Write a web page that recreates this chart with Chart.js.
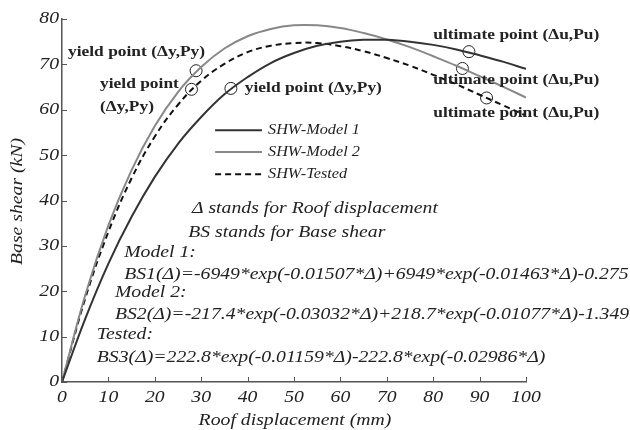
<!DOCTYPE html>
<html>
<head>
<meta charset="utf-8">
<script src="https://cdn.jsdelivr.net/npm/chart.js@4/dist/chart.umd.min.js"></script>
<style>
    body { margin: 0; background: #fff; }
    #wrap { width: 630px; height: 430px; }
</style>
</head>
<body>
<div id="wrap"><canvas id="chart1"></canvas></div>
<script>
const chart1div = document.getElementById("chart1")

// roof displacement (mm)
const displacement = [0, 5, 10, 15, 20, 25, 30, 35, 40, 45, 50, 55, 60, 65, 70, 75, 80, 85, 90, 95, 100]
// base shear (kN)
const model1 = [0, 13.9, 26.1, 36.4, 45.2, 52.5, 58.4, 63.4, 67.2, 70.3, 72.5, 74.1, 75.0, 75.4, 75.4, 75.0, 74.3, 73.3, 72.0, 70.6, 69.0]
const model2 = [0, 19.1, 34.5, 46.7, 56.4, 63.9, 69.4, 73.5, 76.2, 77.8, 78.6, 78.6, 78.0, 76.9, 75.5, 73.8, 71.8, 69.7, 67.4, 65.1, 62.7]
const tested = [0, 18.4, 33.1, 44.9, 54.1, 61.1, 66.4, 70.1, 72.7, 74.1, 74.7, 74.7, 74.0, 72.9, 71.4, 69.7, 67.7, 65.6, 63.3, 61.0, 58.7]
// yield and ultimate points (circles)
const markerX = [36.4, 28.9, 27.9, 87.7, 86.3, 91.5]
const markerY = [64.7, 68.6, 64.5, 72.8, 69.1, 62.6]
const seriesNames = ["SHW-Model 1", "SHW-Model 2", "SHW-Tested"]
const xTicks = [0, 10, 20, 30, 40, 50, 60, 70, 80, 90, 100]
const yTicks = [0, 10, 20, 30, 40, 50, 60, 70, 80]

const serif = "'Liberation Serif', 'DejaVu Serif', serif"
const axisColor = "#555"
const textColor = "#222"
const stretch = 1.16   // the original text is a bit wide

const toPoints = (ys) => ys.map((y, i) => ({ x: displacement[i], y: y }))

// text notes placed in data units
const notes = [
    { t: "yield point (\u0394y,Py)", x: 1.3, y: 72.7, bold: true },
    { t: "yield point", x: 8.2, y: 65.6, bold: true },
    { t: "(\u0394y,Py)", x: 8.2, y: 60.6, bold: true },
    { t: "yield point (\u0394y,Py)", x: 39.4, y: 64.8, bold: true },
    { t: "ultimate point (\u0394u,Pu)", x: 80.0, y: 76.4, bold: true },
    { t: "ultimate point (\u0394u,Pu)", x: 80.0, y: 66.5, bold: true },
    { t: "ultimate point (\u0394u,Pu)", x: 80.0, y: 59.3, bold: true },
    { t: "\u0394 stands for Roof displacement", x: 28.0, y: 38.3 },
    { t: "BS stands for Base shear", x: 27.2, y: 33.0 },
    { t: "Model 1:", x: 13.4, y: 28.6 },
    { t: "BS1(\u0394)=-6949*exp(-0.01507*\u0394)+6949*exp(-0.01463*\u0394)-0.275", x: 13.4, y: 23.6 },
    { t: "Model 2:", x: 11.4, y: 19.8 },
    { t: "BS2(\u0394)=-217.4*exp(-0.03032*\u0394)+218.7*exp(-0.01077*\u0394)-1.349", x: 11.4, y: 14.8 },
    { t: "Tested:", x: 7.5, y: 10.4 },
    { t: "BS3(\u0394)=222.8*exp(-0.01159*\u0394)-222.8*exp(-0.02986*\u0394)", x: 7.5, y: 5.5 }
]
const legendSpot = { x0: 33.0, x1: 43.1, tx: 44.4, ys: [55.5, 50.7, 45.8] }

function wideText(ctx, text, x, y, font, align, rot) {
    ctx.save()
    ctx.translate(x, y)
    if (rot) ctx.rotate(rot)
    ctx.scale(stretch, 1)
    ctx.font = font
    ctx.textAlign = align
    ctx.textBaseline = "middle"
    ctx.fillStyle = textColor
    ctx.fillText(text, 0, 0)
    ctx.restore()
}

const extras = {
    id: "extras",
    afterDatasetsDraw(chart) {
        const ctx = chart.ctx
        const xs = chart.scales.x
        const ys = chart.scales.y
        const area = chart.chartArea
        ctx.save()
        // inward tick marks
        ctx.strokeStyle = axisColor
        ctx.lineWidth = 1
        xTicks.forEach(v => {
            const px = Math.round(xs.getPixelForValue(v)) + 0.5
            ctx.beginPath(); ctx.moveTo(px, area.bottom); ctx.lineTo(px, area.bottom - 5); ctx.stroke()
        })
        yTicks.forEach(v => {
            const py = Math.round(ys.getPixelForValue(v)) + 0.5
            ctx.beginPath(); ctx.moveTo(area.left, py); ctx.lineTo(area.left + 5, py); ctx.stroke()
        })
        ctx.restore()

        // tick labels and axis titles
        const tickFont = "italic 17px " + serif
        xTicks.forEach(v => wideText(ctx, String(v), xs.getPixelForValue(v), area.bottom + 16, tickFont, "center"))
        yTicks.forEach(v => wideText(ctx, String(v), area.left - 3, ys.getPixelForValue(v), tickFont, "right"))
        wideText(ctx, "Roof displacement (mm)", (area.left + area.right) / 2 + 1, area.bottom + 39, "italic 17px " + serif, "center")
        wideText(ctx, "Base shear (kN)", 18, (area.top + area.bottom) / 2 + 1, "italic 17px " + serif, "center", -Math.PI / 2)

        // notes
        notes.forEach(n => {
            const font = n.bold ? "bold 15px " + serif : "italic 17px " + serif
            wideText(ctx, n.t, xs.getPixelForValue(n.x), ys.getPixelForValue(n.y), font, "left")
        })

        // legend
        ctx.save()
        chart.data.datasets.slice(0, 3).forEach((ds, i) => {
            const py = ys.getPixelForValue(legendSpot.ys[i])
            ctx.strokeStyle = ds.borderColor
            ctx.lineWidth = ds.borderWidth
            ctx.setLineDash(ds.borderDash || [])
            ctx.beginPath()
            ctx.moveTo(xs.getPixelForValue(legendSpot.x0), py)
            ctx.lineTo(xs.getPixelForValue(legendSpot.x1), py)
            ctx.stroke()
            ctx.setLineDash([])
            wideText(ctx, ds.label, xs.getPixelForValue(legendSpot.tx), py, "italic 14px " + serif, "left")
        })
        ctx.restore()
    }
}

new Chart(chart1div, {
    type: "scatter",
    data: {
        datasets: [
            { label: seriesNames[0], data: toPoints(model1), showLine: true, borderColor: "#333", borderWidth: 2, pointRadius: 0, tension: 0.4 },
            { label: seriesNames[1], data: toPoints(model2), showLine: true, borderColor: "#888", borderWidth: 2, pointRadius: 0, tension: 0.4 },
            { label: seriesNames[2], data: toPoints(tested), showLine: true, borderColor: "#111", borderWidth: 2, borderDash: [6, 4], pointRadius: 0, tension: 0.4 },
            {
                label: "points",
                data: markerX.map((x, i) => ({ x: x, y: markerY[i] })),
                showLine: false,
                pointRadius: 6,
                pointBorderWidth: 1,
                pointBorderColor: "#222",
                pointBackgroundColor: "rgba(0,0,0,0)"
            }
        ]
    },
    plugins: [extras],
    options: {
        responsive: true,
        maintainAspectRatio: false,
        animation: false,
        layout: { padding: { top: 19, right: 104, left: 0, bottom: 0 } },
        plugins: {
            legend: { display: false },
            tooltip: { enabled: false }
        },
        scales: {
            x: {
                type: "linear",
                min: 0,
                max: 100,
                afterFit: s => { s.height = 48 },
                grid: { display: false },
                border: { color: axisColor, width: 1.5 },
                ticks: { display: false }
            },
            y: {
                min: 0,
                max: 80,
                afterFit: s => { s.width = 62 },
                grid: { display: false },
                border: { color: axisColor, width: 1.5 },
                ticks: { display: false }
            }
        }
    }
});
</script>
</body>
</html>
